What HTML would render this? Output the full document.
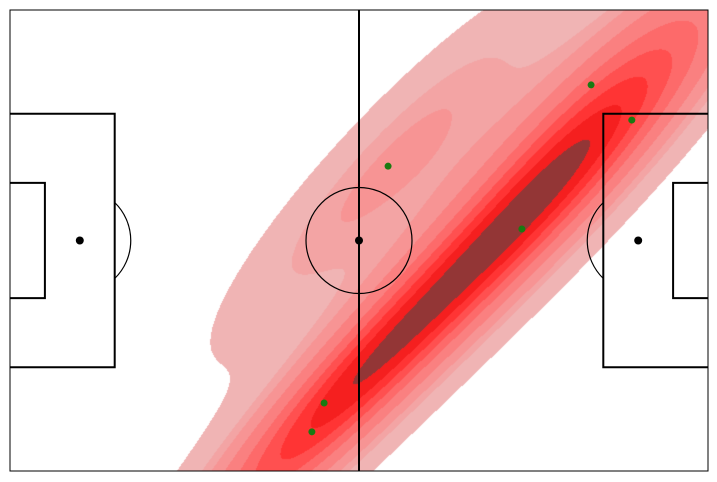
<!DOCTYPE html>
<html><head><meta charset="utf-8"><style>
html,body{margin:0;padding:0;background:#fff;width:717px;height:482px;overflow:hidden}
#wrap{position:relative;width:717px;height:482px}
canvas,svg{position:absolute;left:0;top:0}
</style></head><body>
<div id="wrap">
<canvas id="cv" width="717" height="482"></canvas>
<svg id="sv" width="717" height="482"></svg>
</div>
<script>
// pitch data coordinates (120 x 80)
const shotX = [65.0, 99.9, 106.9, 88.0, 54.0, 51.9];
const shotY = [27.1, 13.0, 19.1, 38.0, 68.2, 73.2];
const bandColors = ["#f0b4b4","#f3a4a4","#f79494","#fa8080","#fd6a6a","#ff5050","#ff3434","#f51f1f","#933636"];

const X0=10,X1=708,Y0=10,Y1=471;
const sx=v=>X0+v*(X1-X0)/120, sy=v=>Y0+v*(Y1-Y0)/80;
const ix=p=>(p-X0)*120/(X1-X0), iy=p=>(p-Y0)*80/(Y1-Y0);

const bwAdjust=1.25, minorScale=0.75;
const n=shotX.length;
const mx=shotX.reduce((a,b)=>a+b)/n, my=shotY.reduce((a,b)=>a+b)/n;
let cxx=0,cyy=0,cxy=0;
for(let i=0;i<n;i++){cxx+=(shotX[i]-mx)**2;cyy+=(shotY[i]-my)**2;cxy+=(shotX[i]-mx)*(shotY[i]-my);}
cxx/=n-1;cyy/=n-1;cxy/=n-1;
const f2=Math.pow(n,-1/3)*bwAdjust*bwAdjust;
let a=cxx*f2,d=cyy*f2,b=cxy*f2;
// eigen-decompose and shrink minor axis
const tr=a+d, dt=a*d-b*b, disc=Math.sqrt(tr*tr/4-dt);
const l1=tr/2+disc, l2=(tr/2-disc)*minorScale*minorScale;
const th=0.5*Math.atan2(2*b,a-d), c=Math.cos(th), s=Math.sin(th);
a=l1*c*c+l2*s*s; d=l1*s*s+l2*c*c; b=(l1-l2)*c*s;
const det=a*d-b*b;
const ia=d/det,id=a/det,ib=-b/det;
const W=X1-X0,H=Y1-Y0;
const dens=new Float64Array(W*H);
for(let py=0;py<H;py++){const y=iy(py+Y0+0.5);
 for(let px=0;px<W;px++){const x=ix(px+X0+0.5);let sm=0;
  for(let i=0;i<n;i++){const dx=x-shotX[i],dy=y-shotY[i];sm+=Math.exp(-0.5*(ia*dx*dx+2*ib*dx*dy+id*dy*dy));}
  dens[py*W+px]=sm;}}
const sorted=Float64Array.from(dens).sort();
let tot=0;for(const v of sorted)tot+=v;
const props=[];for(let k=0;k<10;k++)props.push(0.05+k*0.95/9);
const levels=[];let cum=0,k=0;
for(let i=0;i<sorted.length&&k<props.length;i++){cum+=sorted[i];while(k<props.length&&cum/tot>=props[k]){levels.push(sorted[i]);k++;}}
while(levels.length<10)levels.push(Infinity);
const ctx=document.getElementById('cv').getContext('2d');
const img=ctx.createImageData(W,H);
const rgb=bandColors.map(c=>[parseInt(c.substr(1,2),16),parseInt(c.substr(3,2),16),parseInt(c.substr(5,2),16)]);
for(let i=0;i<W*H;i++){const v=dens[i];let band=-1;
 for(let j=0;j<9;j++){if(v>=levels[j])band=j;}
 const o=i*4;
 if(band<0){img.data[o]=255;img.data[o+1]=255;img.data[o+2]=255;img.data[o+3]=255;}
 else{const cc=rgb[band];img.data[o]=cc[0];img.data[o+1]=cc[1];img.data[o+2]=cc[2];img.data[o+3]=255;}}
ctx.putImageData(img,X0,Y0);

const NS="http://www.w3.org/2000/svg",sv=document.getElementById('sv');
function el(t,at,name){const e=document.createElementNS(NS,t);for(const k in at)e.setAttribute(k,at[k]);
 
 
 sv.appendChild(e);return e;}
const line={fill:"none",stroke:"#000","stroke-width":2};
el('rect',{x:X0,y:Y0,width:W,height:H,...line,"stroke-width":1},'pitch-border');
el('line',{x1:sx(60),y1:Y0,x2:sx(60),y2:Y1,...line},'halfway-line');
el('circle',{cx:sx(60),cy:sy(40),r:53,fill:"none",stroke:"#000","stroke-width":1.2},'centre-circle');
el('circle',{cx:sx(60),cy:sy(40),r:4,fill:"#000"},'centre-spot');
el('path',{d:`M${X0} ${sy(18)}H${sx(18)}V${sy(62)}H${X0}`,...line},'left-penalty-box');
el('path',{d:`M${X0} ${sy(30)}H${sx(6)}V${sy(50)}H${X0}`,...line},'left-six-yard-box');
el('path',{d:`M${X1} ${sy(18)}H${sx(102)}V${sy(62)}H${X1}`,...line},'right-penalty-box');
el('path',{d:`M${X1} ${sy(30)}H${sx(114)}V${sy(50)}H${X1}`,...line},'right-six-yard-box');
el('circle',{cx:sx(12),cy:sy(40),r:4,fill:"#000"},'left-penalty-spot');
el('circle',{cx:sx(108),cy:sy(40),r:4,fill:"#000"},'right-penalty-spot');
el('path',{d:`M${sx(18)} ${sy(40)-38}A53 53 0 0 1 ${sx(18)} ${sy(40)+38}`,fill:"none",stroke:"#000","stroke-width":1.2},'left-penalty-arc');
el('path',{d:`M${sx(102)} ${sy(40)-38}A53 53 0 0 0 ${sx(102)} ${sy(40)+38}`,fill:"none",stroke:"#000","stroke-width":1.2},'right-penalty-arc');
for(let i=0;i<n;i++){
 el('circle',{cx:sx(shotX[i]),cy:sy(shotY[i]),r:3.5,fill:"#1a7a12"},'shot-point');
}
</script>
</body></html>
